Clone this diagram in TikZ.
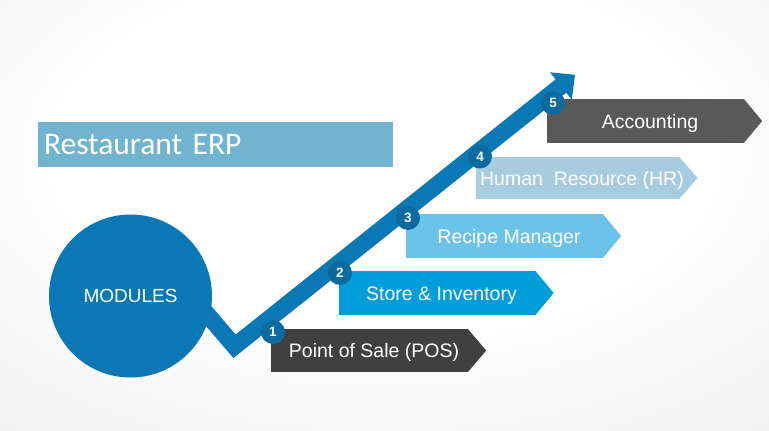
\documentclass[tikz,border=0pt]{standalone}
\usepackage{fontspec}
\setmainfont{Liberation Sans}
\newfontfamily\titlefont{Carlito}
\usepackage{tikz}
\usetikzlibrary{arrows.meta}
\usetikzlibrary{backgrounds}

\definecolor{arrowblue}{HTML}{0A78B5}
\definecolor{numblue}{HTML}{0B6B9E}
\definecolor{titleblue}{HTML}{72B4CF}
\definecolor{posgray}{HTML}{404040}
\definecolor{storeblue}{HTML}{009DDB}
\definecolor{recipeblue}{HTML}{6BC3EC}
\definecolor{hrblue}{HTML}{A7CCE0}
\definecolor{acctgray}{HTML}{595959}
\pgfdeclareradialshading{backglow}{\pgfpoint{0bp}{10bp}}{color(0bp)=(white); color(20bp)=(white); color(75bp)=(black!15)}

\begin{document}
\begin{tikzpicture}[x=1pt,y=-1pt,
    tab/.style={fill=#1, text=white, minimum width=197pt, minimum height=43pt, inner sep=0pt, text height=14pt, text depth=0pt, execute at begin node=\hspace*{4.5pt}, execute at end node=\hspace*{-4.5pt}, font=\fontsize{19.5}{22}\selectfont},
    badge/.style={circle, fill=numblue, text=white, minimum size=24pt, inner sep=0pt, font=\bfseries\fontsize{13.5}{15}\selectfont}]
        \begin{scope}[on background layer]
            \shade[shading=backglow] (0,0) rectangle (769,431);
        \end{scope}
        \useasboundingbox (0,0) rectangle (769,431);
        % growth arrow
        \coordinate (tail) at (202,308.3);
        \coordinate (bend) at (234.5,346.3);
        \coordinate (peak) at (575,74.8);
        \draw[arrowblue, line width=17pt, -{Triangle[width=34pt,length=18pt]}] (tail) -- (bend) -- (peak);
        \node[circle, fill=arrowblue, text=white, minimum size=163pt, inner sep=0pt, font=\fontsize{19}{22}\selectfont] (hub) at (130.5,296) {MODULES};
        \node[fill=titleblue, text=white, minimum width=355pt, minimum height=45pt, inner xsep=6pt, text width=343pt, align=left, font=\titlefont\fontsize{31.5}{36}\selectfont] (title) at (215.5,144.5) {Restaurant ERP};
        % module tabs
        \node[tab=posgray] (pos) at (369.5,350.5) {Point of Sale (POS)};
        \node[tab=storeblue, minimum height=44pt] (store) at (437,293) {Store \& Inventory};
        \node[tab=recipeblue, minimum height=44pt] (recipe) at (504.5,236) {Recipe Manager};
        \node[tab=hrblue, minimum width=201pt, minimum height=42pt] (hr) at (577.5,178) {Human~~Resource (HR)};
        \node[tab=acctgray, minimum height=44pt] (acct) at (645.5,121) {Accounting};
        \begin{scope}[on background layer]
            \foreach \t/\c in {pos/posgray, store/storeblue, recipe/recipeblue, hr/hrblue, acct/acctgray}
                \fill[\c] ([xshift=-0.5pt]\t.north east) -- ([xshift=18pt]\t.east) -- ([xshift=-0.5pt]\t.south east) -- cycle;
        \end{scope}
        % step numbers
        \node[badge] (b1) at (273,332) {1};
        \node[badge] (b2) at (340,273) {2};
        \node[badge] (b3) at (408,218) {3};
        \node[badge] (b4) at (480,156.5) {4};
        \node[badge] (b5) at (553,103) {5};
\end{tikzpicture}
\end{document}
